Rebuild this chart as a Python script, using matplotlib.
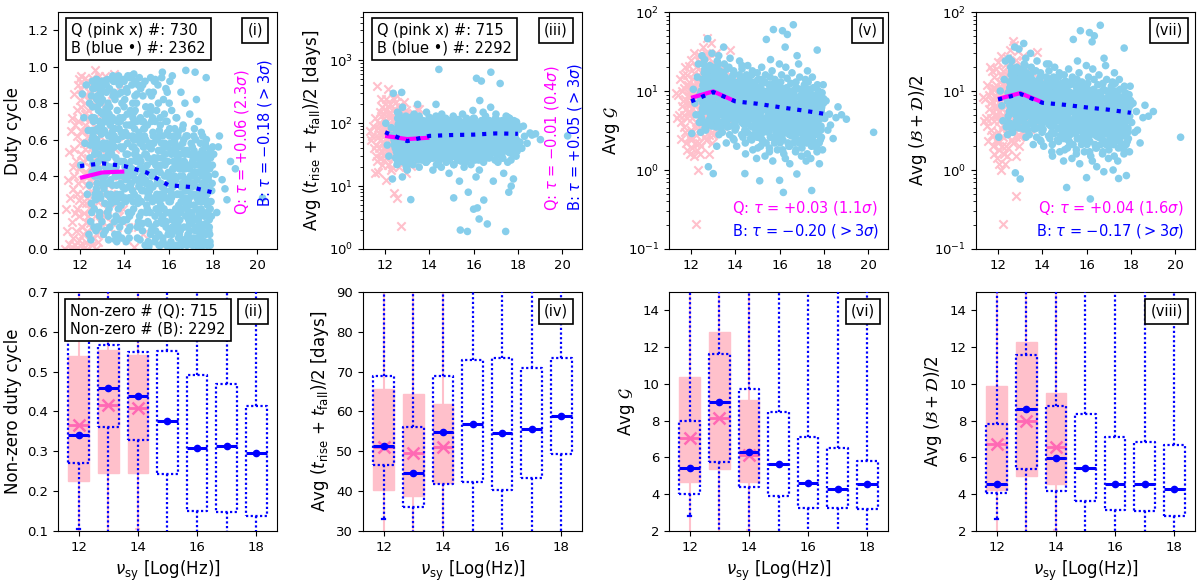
import matplotlib
matplotlib.use('Agg')
import matplotlib.pyplot as plt

# ---------------- scatter data ----------------
blue_nu = [
 12.42, 12.53, 12.48, 12.57, 12.45, 12.51, 12.59, 12.43, 12.54, 12.49, 12.56, 12.46,
 12.75, 12.64, 12.78, 12.67, 12.72, 12.61, 12.74, 12.70, 12.66, 12.77, 12.68, 12.79,
 12.82, 12.93, 12.88, 12.97, 12.85, 12.91, 12.99, 12.83, 12.94, 12.89, 12.96, 12.86,
 13.15, 13.04, 13.18, 13.07, 13.12, 13.01, 13.14, 13.10, 13.06, 13.17, 13.08, 13.19,
 13.22, 13.33, 13.28, 13.37, 13.25, 13.31, 13.39, 13.23, 13.34, 13.29, 13.36, 13.26,
 13.55, 13.44, 13.58, 13.47, 13.52, 13.41, 13.54, 13.50, 13.46, 13.57, 13.48, 13.59,
 13.62, 13.73, 13.68, 13.77, 13.65, 13.71, 13.79, 13.63, 13.74, 13.69, 13.76, 13.66,
 13.95, 13.84, 13.98, 13.87, 13.92, 13.81, 13.94, 13.90, 13.86, 13.97, 13.88, 13.99,
 14.02, 14.13, 14.08, 14.17, 14.05, 14.11, 14.19, 14.03, 14.14, 14.09, 14.16, 14.06,
 14.35, 14.24, 14.38, 14.27, 14.32, 14.21, 14.34, 14.30, 14.26, 14.37, 14.28, 14.39,
 14.42, 14.53, 14.48, 14.57, 14.45, 14.51, 14.59, 14.43, 14.54, 14.49, 14.56, 14.46,
 14.75, 14.64, 14.78, 14.67, 14.72, 14.61, 14.74, 14.70, 14.66, 14.77, 14.68, 14.79,
 14.82, 14.93, 14.88, 14.97, 14.85, 14.91, 14.99, 14.83, 14.94, 14.89, 14.96, 14.86,
 15.15, 15.04, 15.18, 15.07, 15.12, 15.01, 15.14, 15.10, 15.06, 15.17, 15.08, 15.19,
 15.22, 15.33, 15.28, 15.37, 15.25, 15.31, 15.39, 15.23, 15.34, 15.29, 15.36, 15.26,
 15.55, 15.44, 15.58, 15.47, 15.52, 15.41, 15.54, 15.50, 15.46, 15.57, 15.48, 15.59,
 15.62, 15.73, 15.68, 15.77, 15.65, 15.71, 15.79, 15.63, 15.74, 15.69, 15.76, 15.66,
 15.95, 15.84, 15.98, 15.87, 15.92, 15.81, 15.94, 15.90, 15.86, 15.97, 15.88, 15.99,
 16.02, 16.13, 16.08, 16.17, 16.05, 16.11, 16.19, 16.03, 16.14, 16.09, 16.16, 16.06,
 16.35, 16.24, 16.38, 16.27, 16.32, 16.21, 16.34, 16.30, 16.26, 16.37, 16.28, 16.39,
 16.42, 16.53, 16.48, 16.57, 16.45, 16.51, 16.59, 16.43, 16.54, 16.49, 16.56, 16.46,
 16.75, 16.64, 16.78, 16.67, 16.72, 16.61, 16.74, 16.70, 16.66, 16.77, 16.68, 16.79,
 16.82, 16.93, 16.88, 16.97, 16.85, 16.91, 16.99, 16.83, 16.94, 16.89, 16.96, 16.86,
 17.15, 17.04, 17.18, 17.07, 17.12, 17.01, 17.14, 17.10, 17.06, 17.17, 17.08, 17.19,
 17.22, 17.33, 17.28, 17.37, 17.25, 17.31, 17.39, 17.23, 17.34, 17.29, 17.36, 17.26,
 17.55, 17.44, 17.58, 17.47, 17.52, 17.41, 17.54, 17.50, 17.46, 17.57, 17.48, 17.59,
 17.62, 17.73, 17.68, 17.77, 17.65, 17.71, 17.79, 17.63, 17.74, 17.69, 17.76, 17.66,
 17.95, 17.84, 17.98, 17.87, 17.92, 17.81, 17.94, 17.90, 17.86, 17.97, 17.88, 17.99,
 12.03, 12.10, 12.17, 12.22, 12.28, 12.33, 12.37, 12.40, 12.75, 12.78,
 13.00, 13.16, 13.47, 14.30, 14.43, 15.10, 15.40, 15.72, 16.00, 16.13,
 16.17, 16.25, 16.35, 16.62, 16.78, 17.20, 17.45, 17.70, 17.80, 18.04,
 18.10, 18.18, 18.25, 18.30, 18.42, 18.55, 18.64, 18.80, 19.02, 20.25,
 12.66, 12.57, 12.69, 12.53, 12.62, 12.55, 12.68, 12.59, 12.64, 12.51, 12.63, 12.54,
 12.86, 12.77, 12.89, 12.73, 12.82, 12.75, 12.88, 12.79, 12.84, 12.71, 12.83, 12.74,
 13.06, 12.97, 13.09, 12.93, 13.02, 12.95, 13.08, 12.99, 13.04, 12.91, 13.03, 12.94,
 13.26, 13.17, 13.29, 13.13, 13.22, 13.15, 13.28, 13.19, 13.24, 13.11, 13.23, 13.14,
 13.46, 13.37, 13.49, 13.33, 13.42, 13.35, 13.48, 13.39, 13.44, 13.31, 13.43, 13.34,
 13.66, 13.57, 13.69, 13.53, 13.62, 13.55, 13.68, 13.59, 13.64, 13.51, 13.63, 13.54,
 13.86, 13.77, 13.89, 13.73, 13.82, 13.75, 13.88, 13.79, 13.84, 13.71, 13.83, 13.74,
 14.06, 13.97, 14.09, 13.93, 14.02, 13.95, 14.08, 13.99, 14.04, 13.91, 14.03, 13.94,
 14.26, 14.17, 14.29, 14.13, 14.22, 14.15, 14.28, 14.19, 14.24, 14.11, 14.23, 14.14,
 14.46, 14.37, 14.49, 14.33, 14.42, 14.35, 14.48, 14.39, 14.44, 14.31, 14.43, 14.34,
 14.66, 14.57, 14.69, 14.53, 14.62, 14.55, 14.68, 14.59, 14.64, 14.51, 14.63, 14.54,
 14.86, 14.77, 14.89, 14.73, 14.82, 14.75, 14.88, 14.79, 14.84, 14.71, 14.83, 14.74,
 15.06, 14.97, 15.09, 14.93, 15.02, 14.95, 15.08, 14.99, 15.04, 14.91, 15.03, 14.94,
 15.26, 15.17, 15.29, 15.13, 15.22, 15.15, 15.28, 15.19, 15.24, 15.11, 15.23, 15.14,
 15.46, 15.37, 15.49, 15.33, 15.42, 15.35, 15.48, 15.39, 15.44, 15.31, 15.43, 15.34,
 15.66, 15.57, 15.69, 15.53, 15.62, 15.55, 15.68, 15.59, 15.64, 15.51, 15.63, 15.54,
 15.86, 15.77, 15.89, 15.73, 15.82, 15.75, 15.88, 15.79, 15.84, 15.71, 15.83, 15.74,
 16.06, 15.97, 16.09, 15.93, 16.02, 15.95, 16.08, 15.99, 16.04, 15.91, 16.03, 15.94,
 16.26, 16.17, 16.29, 16.13, 16.22, 16.15, 16.28, 16.19, 16.24, 16.11, 16.23, 16.14,
 16.46, 16.37, 16.49, 16.33, 16.42, 16.35, 16.48, 16.39, 16.44, 16.31, 16.43, 16.34,
 16.66, 16.57, 16.69, 16.53, 16.62, 16.55, 16.68, 16.59, 16.64, 16.51, 16.63, 16.54,
 16.86, 16.77, 16.89, 16.73, 16.82, 16.75, 16.88, 16.79, 16.84, 16.71, 16.83, 16.74,
 17.06, 16.97, 17.09, 16.93, 17.02, 16.95, 17.08, 16.99, 17.04, 16.91, 17.03, 16.94,
 17.26, 17.17, 17.29, 17.13, 17.22, 17.15, 17.28, 17.19, 17.24, 17.11, 17.23, 17.14,
 17.46, 17.37, 17.49, 17.33, 17.42, 17.35, 17.48, 17.39, 17.44, 17.31, 17.43, 17.34,
 17.66, 17.57, 17.69, 17.53, 17.62, 17.55, 17.68, 17.59, 17.64, 17.51, 17.63, 17.54,
 17.86, 17.77, 17.89, 17.73, 17.82, 17.75, 17.88, 17.79, 17.84, 17.71, 17.83, 17.74]

blue_duty = [
 0.35, 0.72, 0.15, 0.88, 0.50, 0.25, 0.62, 0.80, 0.42, 0.05, 0.92, 0.57,
 0.60, 0.22, 0.84, 0.45, 0.10, 0.70, 0.33, 0.91, 0.52, 0.78, 0.28, 0.65,
 0.48, 0.85, 0.30, 0.68, 0.12, 0.56, 0.92, 0.40, 0.75, 0.20, 0.63, 0.88,
 0.72, 0.38, 0.90, 0.55, 0.25, 0.82, 0.45, 0.65, 0.08, 0.77, 0.33, 0.58,
 0.42, 0.88, 0.18, 0.62, 0.50, 0.74, 0.30, 0.93, 0.55, 0.05, 0.68, 0.36,
 0.15, 0.55, 0.82, 0.35, 0.66, 0.25, 0.92, 0.45, 0.72, 0.08, 0.60, 0.40,
 0.50, 0.22, 0.70, 0.90, 0.35, 0.60, 0.12, 0.45, 0.95, 0.28, 0.66, 0.04,
 0.62, 0.30, 0.48, 0.86, 0.15, 0.70, 0.40, 0.55, 0.24, 0.93, 0.06, 0.78,
 0.33, 0.74, 0.52, 0.10, 0.64, 0.88, 0.20, 0.45, 0.58, 0.38, 0.95, 0.26,
 0.56, 0.18, 0.80, 0.40, 0.68, 0.28, 0.90, 0.48, 0.12, 0.62, 0.35, 0.72,
 0.22, 0.60, 0.42, 0.85, 0.30, 0.52, 0.12, 0.75, 0.38, 0.92, 0.48, 0.66,
 0.45, 0.15, 0.70, 0.35, 0.58, 0.25, 0.88, 0.50, 0.64, 0.20, 0.94, 0.40,
 0.10, 0.52, 0.32, 0.78, 0.44, 0.62, 0.20, 0.90, 0.02, 0.56, 0.38, 0.70,
 0.36, 0.68, 0.08, 0.50, 0.86, 0.24, 0.58, 0.42, 0.15, 0.75, 0.30, 0.94,
 0.55, 0.28, 0.72, 0.04, 0.40, 0.62, 0.18, 0.84, 0.48, 0.34, 0.92, 0.12,
 0.20, 0.46, 0.65, 0.30, 0.90, 0.10, 0.54, 0.38, 0.76, 0.02, 0.60, 0.26,
 0.42, 0.14, 0.58, 0.82, 0.24, 0.50, 0.35, 0.68, 0.06, 0.94, 0.30, 0.46,
 0.64, 0.32, 0.08, 0.48, 0.20, 0.74, 0.40, 0.15, 0.56, 0.28, 0.88, 0.02,
 0.26, 0.52, 0.38, 0.12, 0.66, 0.04, 0.44, 0.80, 0.30, 0.58, 0.18, 0.92,
 0.46, 0.10, 0.30, 0.60, 0.22, 0.40, 0.02, 0.54, 0.35, 0.72, 0.15, 0.50,
 0.14, 0.40, 0.56, 0.26, 0.06, 0.48, 0.34, 0.64, 0.20, 0.44, 0.86, 0.30,
 0.36, 0.58, 0.18, 0.44, 0.28, 0.02, 0.52, 0.12, 0.68, 0.32, 0.48, 0.24,
 0.22, 0.46, 0.08, 0.34, 0.62, 0.16, 0.40, 0.54, 0.28, 0.04, 0.74, 0.38,
 0.42, 0.14, 0.30, 0.56, 0.06, 0.36, 0.24, 0.48, 0.18, 0.66, 0.02, 0.52,
 0.10, 0.34, 0.50, 0.20, 0.42, 0.28, 0.02, 0.60, 0.16, 0.38, 0.46, 0.82,
 0.30, 0.06, 0.44, 0.22, 0.54, 0.14, 0.36, 0.26, 0.48, 0.02, 0.64, 0.40,
 0.18, 0.38, 0.08, 0.46, 0.28, 0.52, 0.12, 0.34, 0.02, 0.42, 0.24, 0.58,
 0.32, 0.12, 0.46, 0.04, 0.26, 0.40, 0.18, 0.50, 0.08, 0.36, 0.22, 0.56,
 0.46, 0.85, 0.72, 0.58, 0.90, 0.30, 0.65, 0.08, 0.93, 0.12,
 0.89, 0.91, 0.93, 0.95, 0.96, 0.01, 0.93, 0.97, 0.00, 0.02,
 0.95, 0.62, 0.00, 0.05, 0.98, 0.97, 0.01, 0.94, 0.03, 0.52,
 0.41, 0.20, 0.56, 0.62, 0.38, 0.33, 0.27, 0.48, 0.44, 0.28,
 0.40, 0.78, 0.55, 0.20, 0.88, 0.65, 0.30, 0.47, 0.72, 0.84, 0.12, 0.60,
 0.70, 0.36, 0.90, 0.58, 0.44, 0.82, 0.18, 0.66, 0.52, 0.27, 0.76, 0.93,
 0.50, 0.86, 0.64, 0.28, 0.74, 0.40, 0.92, 0.15, 0.58, 0.80, 0.35, 0.68,
 0.80, 0.46, 0.62, 0.92, 0.30, 0.70, 0.52, 0.86, 0.20, 0.40, 0.76, 0.10,
 0.58, 0.28, 0.84, 0.45, 0.70, 0.12, 0.95, 0.38, 0.64, 0.22, 0.52, 0.78,
 0.30, 0.66, 0.48, 0.86, 0.18, 0.56, 0.76, 0.05, 0.40, 0.92, 0.26, 0.62,
 0.64, 0.40, 0.80, 0.16, 0.56, 0.92, 0.28, 0.72, 0.48, 0.08, 0.36, 0.85,
 0.46, 0.16, 0.68, 0.34, 0.82, 0.56, 0.04, 0.92, 0.28, 0.62, 0.40, 0.72,
 0.28, 0.62, 0.44, 0.86, 0.06, 0.52, 0.76, 0.34, 0.94, 0.16, 0.68, 0.42,
 0.52, 0.32, 0.76, 0.20, 0.60, 0.44, 0.84, 0.26, 0.70, 0.36, 0.56, 0.94,
 0.34, 0.70, 0.18, 0.54, 0.28, 0.80, 0.44, 0.06, 0.62, 0.38, 0.90, 0.50,
 0.56, 0.26, 0.42, 0.72, 0.14, 0.48, 0.66, 0.32, 0.84, 0.05, 0.60, 0.38,
 0.28, 0.60, 0.14, 0.44, 0.74, 0.36, 0.04, 0.52, 0.22, 0.66, 0.46, 0.92,
 0.48, 0.20, 0.64, 0.34, 0.10, 0.56, 0.26, 0.78, 0.42, 0.02, 0.70, 0.32,
 0.14, 0.42, 0.28, 0.58, 0.06, 0.50, 0.36, 0.70, 0.22, 0.86, 0.46, 0.62,
 0.36, 0.08, 0.54, 0.22, 0.72, 0.44, 0.16, 0.62, 0.30, 0.50, 0.02, 0.80,
 0.52, 0.28, 0.12, 0.62, 0.40, 0.04, 0.70, 0.22, 0.46, 0.34, 0.58, 0.18,
 0.20, 0.48, 0.32, 0.70, 0.10, 0.56, 0.26, 0.42, 0.62, 0.02, 0.36, 0.86,
 0.40, 0.16, 0.58, 0.28, 0.48, 0.08, 0.66, 0.34, 0.20, 0.54, 0.44, 0.76,
 0.24, 0.52, 0.08, 0.38, 0.62, 0.18, 0.46, 0.30, 0.02, 0.56, 0.12, 0.72,
 0.44, 0.22, 0.60, 0.10, 0.36, 0.52, 0.26, 0.04, 0.40, 0.16, 0.66, 0.30,
 0.12, 0.38, 0.26, 0.54, 0.06, 0.44, 0.20, 0.62, 0.32, 0.48, 0.02, 0.80,
 0.34, 0.10, 0.48, 0.24, 0.58, 0.14, 0.40, 0.04, 0.30, 0.52, 0.20, 0.44,
 0.22, 0.46, 0.06, 0.36, 0.16, 0.54, 0.28, 0.42, 0.02, 0.50, 0.12, 0.62,
 0.46, 0.18, 0.34, 0.04, 0.52, 0.26, 0.12, 0.42, 0.58, 0.30, 0.08, 0.70,
 0.26, 0.50, 0.14, 0.40, 0.04, 0.32, 0.56, 0.20, 0.46, 0.10, 0.36, 0.62,
 0.44, 0.20, 0.54, 0.30, 0.10, 0.48, 0.02, 0.38, 0.16, 0.60, 0.26, 0.34]

blue_trise = [
 45, 80, 28, 120, 60, 35, 95, 52, 22, 70, 150, 40,
 60, 33, 88, 48, 25, 72, 40, 110, 55, 30, 65, 180,
 38, 70, 50, 26, 95, 44, 62, 32, 130, 55, 20, 80,
 55, 30, 75, 42, 115, 36, 62, 24, 48, 90, 58, 35,
 46, 85, 32, 60, 40, 140, 52, 28, 70, 38, 100, 22,
 66, 40, 90, 30, 55, 75, 20, 48, 120, 36, 60, 85,
 50, 110, 35, 70, 26, 58, 42, 95, 62, 30, 78, 45,
 72, 38, 56, 150, 32, 88, 48, 64, 24, 105, 42, 60,
 44, 82, 60, 28, 68, 115, 36, 52, 90, 40, 18, 75,
 62, 35, 96, 50, 22, 70, 45, 130, 58, 30, 80, 40,
 38, 72, 55, 105, 30, 64, 46, 85, 20, 60, 140, 42,
 58, 28, 82, 44, 68, 34, 120, 52, 75, 24, 62, 95,
 46, 90, 35, 64, 26, 78, 55, 40, 110, 16, 70, 50,
 70, 40, 58, 30, 100, 48, 85, 22, 62, 36, 130, 54,
 52, 80, 26, 66, 44, 115, 34, 60, 92, 40, 12, 72,
 64, 36, 96, 50, 28, 74, 44, 140, 56, 20, 84, 40,
 44, 75, 58, 32, 110, 48, 66, 24, 88, 54, 8, 38,
 80, 42, 62, 28, 52, 96, 36, 70, 46, 160, 22, 58,
 56, 30, 88, 46, 68, 14, 50, 120, 38, 76, 60, 26,
 40, 70, 54, 100, 32, 62, 44, 84, 18, 58, 230, 48,
 66, 36, 80, 50, 24, 92, 58, 42, 130, 30, 72, 6,
 48, 90, 34, 62, 110, 44, 75, 28, 56, 180, 40, 68,
 72, 40, 58, 26, 86, 50, 120, 36, 64, 12, 94, 46,
 52, 82, 32, 68, 44, 140, 56, 24, 76, 40, 100, 60,
 60, 38, 90, 50, 70, 28, 110, 46, 80, 34, 16, 64,
 44, 75, 56, 130, 36, 66, 24, 88, 50, 100, 40, 8,
 68, 48, 95, 32, 58, 80, 42, 120, 62, 26, 74, 52,
 54, 88, 40, 70, 30, 62, 105, 46, 76, 36, 58, 92,
 100, 45, 30, 65, 85, 13, 300, 55, 310, 14,
 18, 6.1, 200, 200, 720, 6.5, 2.0, 1.9, 4.3, 520,
 4.5, 3.0, 470, 2.5, 650, 430, 1.9, 10, 13, 80,
 50, 40, 90, 62, 48, 70, 65, 68, 55, 63,
 55, 32, 75, 44, 100, 26, 62, 38, 85, 50, 140, 30,
 42, 68, 28, 90, 52, 36, 120, 46, 24, 64, 80, 34,
 60, 38, 82, 30, 50, 105, 44, 26, 70, 56, 35, 95,
 36, 72, 48, 28, 88, 54, 40, 125, 62, 32, 78, 45,
 70, 42, 58, 95, 34, 64, 26, 50, 82, 38, 110, 54,
 48, 84, 36, 62, 28, 100, 54, 40, 72, 32, 58, 130,
 58, 34, 76, 46, 100, 30, 66, 52, 24, 86, 42, 64,
 40, 70, 52, 32, 92, 60, 44, 125, 36, 78, 56, 26,
 66, 44, 88, 30, 56, 74, 38, 110, 50, 28, 62, 84,
 50, 92, 36, 66, 42, 120, 58, 30, 76, 46, 24, 64,
 62, 38, 80, 52, 28, 96, 44, 68, 34, 125, 56, 72,
 44, 74, 56, 32, 88, 48, 64, 26, 102, 40, 60, 36,
 68, 46, 92, 36, 58, 28, 76, 50, 115, 40, 62, 84,
 50, 84, 40, 66, 30, 96, 56, 44, 72, 22, 60, 35,
 58, 36, 78, 48, 105, 32, 64, 52, 88, 42, 25, 70,
 46, 70, 30, 88, 54, 40, 120, 62, 34, 76, 50, 28,
 72, 50, 96, 38, 60, 30, 84, 46, 66, 110, 42, 56,
 40, 64, 52, 90, 34, 74, 46, 120, 58, 28, 80, 62,
 66, 42, 82, 54, 30, 100, 48, 70, 38, 60, 26, 90,
 52, 86, 36, 64, 46, 110, 58, 32, 76, 44, 150, 40,
 60, 38, 74, 50, 96, 28, 66, 44, 84, 56, 34, 120,
 46, 78, 58, 34, 90, 52, 70, 40, 105, 30, 62, 48,
 64, 44, 86, 54, 32, 96, 60, 40, 74, 50, 115, 36,
 50, 72, 38, 90, 58, 44, 110, 66, 30, 80, 54, 42,
 70, 48, 62, 36, 100, 56, 82, 42, 64, 28, 92, 52,
 56, 84, 44, 66, 34, 104, 60, 48, 76, 38, 58, 125,
 62, 40, 78, 52, 90, 46, 68, 34, 84, 56, 110, 44]

blue_G = [
 8, 14, 4.5, 22, 10, 6, 17, 3, 12, 28, 7, 5.2,
 11, 6.5, 18, 4, 9, 25, 7.5, 13, 3.2, 15, 8.5, 5.5,
 7, 12, 5, 20, 9.5, 3.8, 15, 6, 30, 10.5, 4.5, 8,
 13, 8, 24, 5.5, 10, 16, 3.5, 9, 6.5, 19, 11, 4.2,
 9, 5, 15, 7, 28, 11, 4, 13, 6, 18, 8, 2.8,
 6.5, 12, 4.5, 17, 8.5, 3, 10, 22, 5.5, 14, 7.5, 2.2,
 10, 5.5, 14, 7, 3.5, 20, 8, 12, 4.5, 9, 26, 6,
 7.5, 13, 4, 9.5, 18, 5.5, 11, 2.5, 15, 6.5, 8.5, 3.2,
 12, 6, 9, 16, 4.5, 7.5, 24, 3.5, 10.5, 5, 13, 2,
 5.5, 10, 3.8, 8, 14, 6.5, 2.6, 19, 9, 4.8, 11, 7,
 8.5, 4.2, 12, 6, 2.2, 16, 7.2, 3.2, 10, 5.2, 21, 1.6,
 6, 11, 3.5, 8, 5, 14, 2.4, 9.5, 4.4, 18, 7, 1.8,
 9, 5, 13, 2.8, 7, 4, 17, 6, 10.5, 3.4, 1.4, 8,
 4.6, 8.5, 3, 11, 6.2, 1.9, 14, 5.4, 9.5, 2.5, 7.2, 20,
 7.5, 3.6, 10, 5.8, 2.2, 13, 4.4, 8.5, 1.5, 6.6, 16, 3,
 5.2, 9.5, 2.6, 6.8, 12, 4, 1.7, 8, 3.3, 15, 5.8, 25,
 8, 4.4, 11, 2.2, 6, 3.4, 14, 5, 9.5, 1.3, 7, 18,
 3.8, 7, 5.4, 10, 2.5, 12.5, 4.6, 1.8, 8.2, 6.2, 3, 22,
 6.5, 2.8, 9, 4.2, 13, 5.6, 1.6, 7.5, 3.5, 16, 4.8, 11,
 4.4, 8.5, 2.2, 6, 11, 3.4, 14.5, 5.2, 1.4, 7, 20, 3.8,
 7.2, 3.2, 5.6, 10, 2, 12.5, 4.4, 8.5, 2.7, 6.4, 17, 1.2,
 5, 9.5, 3.6, 7, 1.7, 4.6, 13, 2.6, 6, 11, 3.2, 28,
 3.4, 6.5, 2.2, 8.5, 4.8, 15, 1.5, 5.8, 10.5, 3.8, 7.4, 22,
 6, 2.8, 9, 4.2, 12, 1.9, 5.2, 7.6, 3.4, 14, 2.3, 10,
 4.6, 8, 3, 6.4, 1.6, 10.5, 5.4, 2.4, 7.2, 13, 3.8, 18,
 5.8, 2.6, 7.5, 4, 11, 1.4, 6.6, 3.4, 9, 4.8, 15, 2,
 3.6, 6.8, 2, 8.8, 4.6, 12, 5.6, 2.8, 7.4, 1.7, 10, 4.2,
 5, 2.4, 7, 3.6, 9.5, 4.4, 1.8, 6.2, 3.2, 12, 5.6, 8,
 2.9, 10.5, 7, 5, 15, 22, 4, 9, 46, 1.1,
 0.9, 2.0, 36, 21, 0.9, 0.73, 45, 60, 0.74, 58,
 0.52, 36, 52, 69, 0.89, 1.3, 0.55, 33, 1.2, 4.5,
 7.5, 3.2, 5.1, 3.7, 2.5, 4.6, 6.3, 5.0, 4.4, 3.0,
 9, 5.5, 13, 7, 19, 4, 10.5, 6.2, 15, 8, 3.4, 11.5,
 7.5, 12, 5, 16, 9, 3.8, 11, 6.5, 21, 8.5, 4.4, 13.5,
 11, 6.8, 15, 8.5, 4.6, 12.5, 9.5, 5.6, 18, 7.2, 10, 3.6,
 8.2, 13, 5.8, 10.5, 4, 16, 7, 11.5, 6, 9, 22, 4.8,
 6, 9.8, 4.2, 12.5, 7.5, 3.4, 14, 8.8, 5.2, 17, 6.8, 10.8,
 9.2, 5.4, 12, 7, 3.8, 15, 8.2, 10.5, 4.6, 6.4, 19, 11.5,
 6.8, 11, 4.8, 8.6, 14, 3.6, 9.6, 6, 12.5, 5.2, 7.6, 2.8,
 8, 5, 10.5, 6.6, 3.4, 13, 7.4, 4.2, 9.2, 16, 5.8, 2.4,
 6.2, 9.5, 4, 7.8, 12, 5.2, 2.8, 8.8, 14.5, 4.6, 6.8, 10.5,
 7.2, 4.4, 9.8, 5.8, 3, 12.5, 6.5, 8.2, 3.8, 10.8, 5, 15,
 5.4, 8.6, 3.6, 6.8, 11, 4.4, 2.5, 7.6, 9.6, 5, 13.5, 3,
 7.8, 4.6, 10, 5.8, 2.8, 8.6, 6.4, 3.6, 12, 5.2, 7, 16,
 5.6, 9.2, 3.4, 7, 4.4, 11.5, 6.2, 2.6, 8.2, 5, 14, 3.8,
 6.6, 4, 8.8, 5.2, 2.4, 10.5, 6, 3.2, 7.6, 4.6, 12.5, 2,
 4.8, 7.8, 3, 6, 9.8, 4.2, 5.4, 2.2, 8.6, 3.6, 6.8, 13,
 6.4, 3.8, 8.4, 5, 2.6, 10.5, 5.8, 4.4, 7.2, 3.2, 12, 1.9,
 4.6, 7.4, 3.4, 5.8, 9.5, 2.6, 6.6, 4, 8.2, 5.2, 3, 11.5,
 5.8, 3.6, 7.8, 4.6, 2.2, 9.5, 5.2, 6.8, 3, 4.2, 11, 2.6,
 4.4, 6.8, 3.2, 5.4, 8.6, 2.4, 6, 3.8, 10.5, 4.8, 7.4, 1.8,
 5.6, 3.4, 7.2, 4.2, 2, 8.8, 5, 6.4, 2.8, 3.8, 10, 4.6,
 4, 6.2, 2.8, 5.2, 8, 3.4, 4.6, 7, 2.2, 9.5, 5.6, 3.6,
 5.2, 3.2, 6.8, 4.4, 2.4, 8.4, 4.8, 6, 3, 10.5, 3.8, 1.8,
 3.8, 6, 2.6, 5, 7.6, 3.4, 4.4, 9, 2.2, 5.6, 6.6, 4,
 4.8, 3, 6.4, 4, 2.2, 7.8, 5.4, 3.6, 9.5, 4.4, 2.6, 6.8,
 3.6, 5.6, 2.4, 4.6, 7, 3.2, 6.2, 4.2, 2, 8.6, 5, 3,
 4.4, 2.8, 6, 3.6, 7.4, 4.8, 2.2, 5.4, 3.2, 8.8, 4, 6.6,
 3.4, 5.2, 2.6, 4.2, 6.6, 3, 5.8, 2.2, 7.8, 3.8, 4.6, 9.5]

blue_BD = [
 7.5, 13, 4, 20, 9.5, 5.5, 16, 2.8, 11, 26, 6.5, 4.8,
 10, 6, 17, 3.8, 8.5, 24, 7, 12, 3, 14, 8, 5,
 6.5, 11, 4.6, 19, 9, 3.5, 14, 5.6, 34, 10, 4.2, 7.5,
 12, 7.5, 22, 5, 9.5, 15, 3.3, 8.5, 6, 18, 10.5, 4,
 8.5, 4.8, 14, 6.6, 26, 10.5, 3.8, 12, 5.6, 17, 7.5, 2.6,
 6, 11, 4.2, 16, 8, 2.8, 9.5, 20, 5.2, 13, 7, 2.1,
 9.5, 5.2, 13, 6.6, 3.3, 18, 7.6, 11.5, 4.2, 8.5, 24, 5.6,
 7, 12, 3.8, 9, 17, 5.2, 10.5, 2.4, 14, 6.2, 8, 3,
 11, 5.6, 8.5, 15, 4.2, 7, 22, 3.3, 10, 4.8, 12.5, 2,
 5.2, 9.5, 3.6, 7.5, 13, 6.2, 2.5, 18, 8.5, 4.5, 10.5, 6.6,
 8, 4, 11.5, 5.6, 2.1, 15, 6.8, 3, 9.5, 5, 20, 1.5,
 5.6, 10.5, 3.3, 7.6, 4.8, 13, 2.3, 9, 4.2, 17, 6.6, 1.7,
 8.5, 4.8, 12.5, 2.7, 6.6, 3.8, 16, 5.6, 10, 3.2, 1.3, 7.6,
 4.4, 8, 2.8, 10.5, 5.8, 1.8, 13, 5.1, 9, 2.4, 6.8, 19,
 7, 3.4, 9.5, 5.5, 2.1, 12.5, 4.2, 8, 1.4, 6.2, 15, 2.8,
 5, 9, 2.5, 6.4, 11.5, 3.8, 1.6, 7.6, 3.1, 14, 5.5, 24,
 7.6, 4.2, 10.5, 2.1, 5.7, 3.2, 13, 4.8, 9, 1.2, 6.6, 17,
 3.6, 6.6, 5.1, 9.5, 2.4, 12, 4.4, 1.7, 7.8, 5.9, 2.8, 21,
 6.2, 2.7, 8.5, 4, 12.5, 5.3, 1.5, 7.1, 3.3, 15, 4.6, 10.5,
 4.2, 8, 2.1, 5.7, 10.5, 3.2, 14, 4.9, 1.3, 6.6, 19, 3.6,
 6.8, 3, 5.3, 9.5, 1.9, 12, 4.2, 8, 2.6, 6.1, 16, 1.1,
 4.8, 9, 3.4, 6.6, 1.6, 4.4, 12.5, 2.5, 5.7, 10.5, 3, 26,
 3.2, 6.2, 2.1, 8, 4.6, 14, 1.4, 5.5, 10, 3.6, 7, 21,
 5.7, 2.7, 8.5, 4, 11.5, 1.8, 4.9, 7.2, 3.2, 13, 2.2, 9.5,
 4.4, 7.6, 2.8, 6.1, 1.5, 10, 5.1, 2.3, 6.8, 12.5, 3.6, 17,
 5.5, 2.5, 7.1, 3.8, 10.5, 1.3, 6.3, 3.2, 8.5, 4.6, 14, 1.9,
 3.4, 6.5, 1.9, 8.4, 4.4, 11.5, 5.3, 2.7, 7, 1.6, 9.5, 4,
 4.8, 2.3, 6.6, 3.4, 9, 4.2, 1.7, 5.9, 3, 11.5, 5.3, 7.6,
 2.6, 10, 6.5, 4.2, 14, 24, 3.5, 8, 36, 0.92,
 0.77, 40, 30, 22, 1.7, 0.6, 45, 58, 0.8, 55,
 0.43, 42, 50, 68, 0.95, 1.0, 0.78, 35, 0.85, 4.0,
 7, 3.0, 5.5, 3.2, 2.2, 4.6, 6.6, 4.8, 5.5, 2.6,
 8.5, 5.2, 12.5, 6.6, 18, 3.8, 10, 5.8, 14, 7.6, 3.2, 11,
 7, 11.5, 4.8, 15, 8.6, 3.6, 10.5, 6.2, 20, 8, 4.2, 13,
 10.5, 6.4, 14, 8, 4.4, 12, 9, 5.3, 17, 6.8, 9.5, 3.4,
 7.8, 12.5, 5.5, 10, 3.8, 15, 6.6, 11, 5.7, 8.5, 21, 4.5,
 5.7, 9.3, 4, 12, 7.1, 3.2, 13, 8.4, 4.9, 16, 6.4, 10.2,
 8.7, 5.1, 11.4, 6.6, 3.6, 14, 7.8, 10, 4.4, 6.1, 18, 10.8,
 6.4, 10.5, 4.6, 8.2, 13, 3.4, 9.1, 5.7, 12, 4.9, 7.2, 2.6,
 7.6, 4.8, 10, 6.3, 3.2, 12.4, 7, 4, 8.7, 15, 5.5, 2.3,
 5.9, 9, 3.8, 7.4, 11.4, 4.9, 2.7, 8.4, 13.8, 4.4, 6.5, 10,
 6.8, 4.2, 9.3, 5.5, 2.9, 11.9, 6.2, 7.8, 3.6, 10.3, 4.8, 14.2,
 5.1, 8.2, 3.4, 6.5, 10.5, 4.2, 2.4, 7.2, 9.1, 4.8, 12.8, 2.9,
 7.4, 4.4, 9.5, 5.5, 2.7, 8.2, 6.1, 3.4, 11.4, 4.9, 6.7, 15,
 5.3, 8.7, 3.2, 6.7, 4.2, 10.9, 5.9, 2.5, 7.8, 4.8, 13.3, 3.6,
 6.3, 3.8, 8.4, 4.9, 2.3, 10, 5.7, 3, 7.2, 4.4, 11.9, 1.9,
 4.6, 7.4, 2.9, 5.7, 9.3, 4, 5.1, 2.1, 8.2, 3.4, 6.5, 12.4,
 6.1, 3.6, 8, 4.8, 2.5, 10, 5.5, 4.2, 6.8, 3, 11.4, 1.8,
 4.4, 7, 3.2, 5.5, 9, 2.5, 6.3, 3.8, 7.8, 4.9, 2.9, 10.9,
 5.5, 3.4, 7.4, 4.4, 2.1, 9, 4.9, 6.5, 2.9, 4, 10.5, 2.5,
 4.2, 6.5, 3, 5.1, 8.2, 2.3, 5.7, 3.6, 10, 4.6, 7, 1.7,
 5.3, 3.2, 6.8, 4, 1.9, 8.4, 4.8, 6.1, 2.7, 3.6, 9.5, 4.4,
 3.8, 5.9, 2.7, 4.9, 7.6, 3.2, 4.4, 6.7, 2.1, 9, 5.3, 3.4,
 4.9, 3, 6.5, 4.2, 2.3, 8, 4.6, 5.7, 2.9, 10, 3.6, 1.7,
 3.6, 5.7, 2.5, 4.8, 7.2, 3.2, 4.2, 8.6, 2.1, 5.3, 6.3, 3.8,
 4.6, 2.9, 6.1, 3.8, 2.1, 7.4, 5.1, 3.4, 9, 4.2, 2.5, 6.5,
 3.4, 5.3, 2.3, 4.4, 6.7, 3, 5.9, 4, 1.9, 8.2, 4.8, 2.9,
 4.2, 2.7, 5.7, 3.4, 7, 4.6, 2.1, 5.1, 3, 8.4, 3.8, 6.3,
 3.2, 4.9, 2.5, 4, 6.3, 2.9, 5.5, 2.1, 7.4, 3.6, 4.4, 9]

pink_nu = [
 11.32, 11.38,
 11.42, 11.47, 11.50,
 11.52, 11.58, 11.55, 11.60,
 11.62, 11.68, 11.64, 11.70, 11.66,
 11.72, 11.78, 11.74, 11.79, 11.71, 11.76,
 11.82, 11.88, 11.84, 11.89, 11.81, 11.86, 11.83, 11.87,
 11.92, 11.98, 11.94, 11.99, 11.91, 11.96, 11.93, 11.97, 11.95,
 12.02, 12.08, 12.04, 12.09, 12.01, 12.06, 12.03, 12.07, 12.05, 12.00,
 12.12, 12.18, 12.14, 12.19, 12.11, 12.16, 12.13, 12.17, 12.15, 12.10,
 12.22, 12.28, 12.24, 12.29, 12.21, 12.26, 12.23, 12.27, 12.25, 12.20,
 12.32, 12.38, 12.34, 12.39, 12.31, 12.36, 12.33, 12.37, 12.35, 12.30,
 12.42, 12.48, 12.44, 12.49, 12.41, 12.46, 12.43, 12.47, 12.45, 12.40,
 12.52, 12.58, 12.54, 12.59, 12.51, 12.56, 12.53, 12.57, 12.55,
 12.62, 12.68, 12.64, 12.69, 12.61, 12.66, 12.63, 12.67, 12.65,
 12.72, 12.78, 12.74, 12.79, 12.71, 12.76, 12.73, 12.77,
 12.82, 12.88, 12.84, 12.89, 12.81, 12.86, 12.83, 12.87,
 12.92, 12.98, 12.94, 12.99, 12.91, 12.96, 12.93,
 13.02, 13.08, 13.04, 13.09, 13.01, 13.06,
 13.15, 13.24, 13.18, 13.26, 13.13, 13.21,
 13.35, 13.44, 13.38, 13.46, 13.41,
 13.55, 13.64, 13.58, 13.66,
 13.75, 13.84, 13.78, 13.86,
 13.95, 14.04, 14.10,
 14.18, 14.30,
 14.45, 14.60,
 14.85]

pink_duty = [
 0.0, 0.22,
 0.1, 0.38, 0.03,
 0.53, 0.0, 0.28, 0.65,
 0.15, 0.45, 0.72, 0.06, 0.33,
 0.85, 0.2, 0.55, 0.02, 0.4, 0.68,
 0.1, 0.62, 0.3, 0.9, 0.48, 0.76, 0.0, 0.22,
 0.36, 0.82, 0.05, 0.58, 0.7, 0.18, 0.93, 0.44, 0.27,
 0.65, 0.12, 0.88, 0.38, 0.02, 0.52, 0.78, 0.25, 0.95, 0.45,
 0.3, 0.72, 0.08, 0.58, 0.9, 0.2, 0.48, 0.84, 0.0, 0.64,
 0.55, 0.15, 0.8, 0.35, 0.68, 0.04, 0.94, 0.42, 0.25, 0.74,
 0.1, 0.62, 0.4, 0.86, 0.28, 0.5, 0.0, 0.76, 0.18, 0.92,
 0.7, 0.32, 0.05, 0.58, 0.9, 0.22, 0.45, 0.14, 0.82, 0.38,
 0.25, 0.84, 0.48, 0.12, 0.66, 0.02, 0.94, 0.36, 0.56,
 0.6, 0.18, 0.78, 0.42, 0.06, 0.88, 0.3, 0.98, 0.52,
 0.08, 0.46, 0.7, 0.26, 0.92, 0.36, 0.0, 0.6,
 0.4, 0.15, 0.82, 0.55, 0.04, 0.68, 0.28, 0.95,
 0.62, 0.2, 0.88, 0.35, 0.1, 0.5, 0.75,
 0.3, 0.7, 0.08, 0.92, 0.45, 0.18,
 0.58, 0.12, 0.8, 0.35, 0.95, 0.22,
 0.44, 0.85, 0.15, 0.65, 0.3,
 0.96, 0.25, 0.55, 0.08,
 0.4, 0.9, 0.18, 0.7,
 0.22, 0.62, 0.05,
 0.12, 0.35,
 0.01, 0.12,
 0.08]

pink_trise = [
 75, 55,
 62, 90, 40,
 16, 45, 120, 30,
 390, 60, 25, 85, 17,
 40, 150, 70, 28, 100, 55,
 240, 35, 80, 50, 130, 22, 65, 180,
 48, 110, 30, 200, 70, 40, 90, 26, 140,
 12.6, 60, 160, 38, 85, 240, 45, 110, 28, 70,
 350, 52, 95, 34, 140, 66, 22, 80, 190, 44,
 75, 30, 120, 55, 200, 40, 90, 18, 62, 150,
 45, 170, 28, 85, 60, 110, 36, 250, 70, 20,
 7.8, 95, 50, 140, 32, 75, 210, 42, 65, 120,
 6.5, 60, 270, 38, 100, 25, 80, 150, 48,
 185, 44, 85, 30, 130, 58, 20, 95, 70,
 2.3, 120, 52, 36, 75, 180, 28, 90,
 60, 140, 40, 24, 100, 66, 34, 220,
 80, 30, 55, 120, 44, 16, 160,
 48, 95, 36, 70, 130, 26,
 21, 145, 60, 40, 85, 32,
 23, 170, 55, 100, 38,
 170, 45, 80, 30,
 60, 110, 35, 90,
 50, 120, 28,
 40, 75,
 35, 60,
 45]

pink_G = [
 9.5, 4.5,
 9, 5, 14,
 4, 10, 2.5, 6.5,
 16, 3.5, 7.5, 11, 5,
 20, 6, 3, 12, 8, 2.2,
 4.5, 12, 7, 2.6, 16, 9, 1.8, 5.5,
 21, 3.2, 8.5, 2.4, 13, 5.5, 10, 1.6, 7,
 6, 14, 3, 9.5, 25, 4.5, 1.9, 11, 7.5, 2.6,
 30, 5, 8, 2.2, 12, 3.6, 17, 6.5, 1.5, 10,
 0.21, 9, 4, 14, 2.8, 7, 20, 5.2, 1.8, 11,
 1.0, 6, 16, 3.4, 10, 2.2, 8, 24, 4.6, 13,
 1.6, 11, 5, 18, 3, 8.5, 2, 13, 6.5, 28,
 36, 4.4, 9, 2.6, 14, 6, 20, 3.4, 11,
 7.5, 2.4, 16, 4.8, 10, 30, 3.2, 12.5, 6,
 47, 5.5, 9.5, 2.8, 14, 4, 22, 7.5,
 8.5, 3.6, 18, 5.8, 1.6, 11, 26, 4.4,
 6.5, 15, 3, 10, 40, 5, 2.2,
 12, 4.2, 22, 7, 2.8, 9,
 5.5, 16, 3.2, 9.5, 30, 7,
 8, 3.6, 14, 5.2, 20,
 10, 4.5, 18, 6.5,
 33, 7, 12, 3.8,
 9, 5, 15,
 6, 11,
 4, 8,
 7]

pink_BD = [
 8.5, 4.2,
 8, 4.6, 12,
 3.6, 9, 2.3, 6,
 20, 3.2, 7, 10, 4.6,
 18, 5.5, 2.8, 11, 7.5, 2,
 4.2, 11, 6.5, 2.4, 15, 8.5, 1.6, 5,
 19, 3, 8, 2.2, 12, 5, 9.5, 1.4, 6.5,
 5.5, 13, 1.2, 9, 23, 4.2, 1.8, 10, 7, 2.4,
 28, 4.6, 7.5, 2, 11, 3.3, 16, 6, 1.0, 9.5,
 0.21, 8.5, 3.7, 13, 2.6, 6.5, 18, 4.8, 1.6, 10,
 1.2, 5.5, 15, 3.1, 9.5, 2, 7.5, 22, 4.2, 12,
 1.5, 10, 4.6, 17, 2.8, 8, 1.9, 12, 6, 26,
 33, 4, 8.5, 2.4, 13, 5.5, 19, 3.1, 10,
 7, 2.2, 15, 4.4, 9.5, 43, 3, 12, 5.6,
 38, 5, 9, 2.6, 13, 3.7, 21, 7,
 0.47, 3.3, 17, 5.4, 1.5, 10.5, 25, 4.1,
 6, 14, 2.8, 9.5, 32, 4.6, 2,
 11, 3.9, 20, 6.5, 2.6, 8.5,
 5.1, 15, 3, 9, 28, 6.5,
 7.5, 3.3, 13, 4.8, 19,
 9.5, 4.2, 17, 6,
 31, 6.5, 11, 3.5,
 8.5, 4.6, 14,
 5.6, 10,
 3.8, 7.5,
 6.5]

# ---------------- binned trend lines (top row) ----------------
bins_q = [12, 13, 14]
bins_b = [12, 13, 14, 15, 16, 17, 18]
duty_trend_q = [0.39, 0.42, 0.425]
duty_trend_b = [0.455, 0.47, 0.455, 0.42, 0.35, 0.34, 0.31]
trise_trend_q = [63, 56, 59]
trise_trend_b = [72, 52, 63, 65, 66, 69, 68]
G_trend_q = [8.2, 9.9, 7.4]
G_trend_b = [7.4, 9.7, 7.4, 6.9, 6.25, 5.7, 5.15]
BD_trend_q = [7.95, 9.4, 7.2]
BD_trend_b = [7.8, 9.2, 7.1, 6.7, 6.2, 5.8, 5.3]

# ---------------- box statistics (bottom row) ----------------
nzduty_q_q1 = [0.226, 0.246, 0.246]
nzduty_q_med = [0.366, 0.417, 0.408]
nzduty_q_q3 = [0.539, 0.555, 0.541]
nzduty_q_lo = [0.0, 0.0, 0.105]
nzduty_q_hi = [1.0, 1.0, 1.0]
nzduty_b_q1 = [0.271, 0.36, 0.329, 0.243, 0.15, 0.148, 0.138]
nzduty_b_med = [0.34, 0.46, 0.44, 0.376, 0.309, 0.313, 0.295]
nzduty_b_q3 = [0.62, 0.568, 0.55, 0.553, 0.492, 0.469, 0.414]
nzduty_b_lo = [0.106, 0.0, 0.0, 0.0, 0.0, 0.0, 0.0]
nzduty_b_hi = [1.0, 1.0, 1.0, 1.0, 1.0, 1.0, 1.0]

trise_q_q1 = [40.25, 38.8, 42.1]
trise_q_med = [51.2, 49.5, 51.2]
trise_q_q3 = [65.7, 64.3, 61.8]
trise_q_lo = [10.0, 10.0, 10.0]
trise_q_hi = [200.0, 200.0, 200.0]
trise_b_q1 = [46.6, 36.1, 41.7, 42.4, 40.4, 43.2, 49.3]
trise_b_med = [51.3, 44.5, 54.8, 56.9, 54.5, 55.5, 58.9]
trise_b_q3 = [69.0, 56.0, 69.0, 73.0, 73.4, 70.8, 73.4]
trise_b_lo = [32.9, 10.0, 10.0, 10.0, 10.0, 10.0, 10.0]
trise_b_hi = [200.0, 200.0, 200.0, 200.0, 200.0, 200.0, 200.0]

G_q_q1 = [4.67, 5.35, 4.64]
G_q_med = [7.04, 8.16, 6.16]
G_q_q3 = [10.36, 12.85, 9.13]
G_q_lo = [0.5, 0.5, 2.07]
G_q_hi = [40.0, 40.0, 40.0]
G_b_q1 = [4.0, 5.73, 4.4, 3.89, 3.25, 3.25, 3.22]
G_b_med = [5.44, 9.04, 6.27, 5.62, 4.62, 4.31, 4.55]
G_b_q3 = [8.0, 11.64, 9.71, 8.45, 7.13, 6.53, 5.8]
G_b_lo = [2.82, 0.5, 0.5, 0.5, 0.5, 0.5, 0.5]
G_b_hi = [40.0, 40.0, 40.0, 40.0, 40.0, 40.0, 40.0]

BD_q_q1 = [4.25, 5.0, 4.53]
BD_q_med = [6.73, 7.98, 6.58]
BD_q_q3 = [9.9, 12.27, 9.53]
BD_q_lo = [0.5, 0.5, 2.05]
BD_q_hi = [40.0, 40.0, 40.0]
BD_b_q1 = [4.04, 5.36, 4.16, 3.64, 3.16, 3.07, 2.82]
BD_b_med = [4.58, 8.64, 5.95, 5.44, 4.58, 4.53, 4.27]
BD_b_q3 = [7.82, 11.55, 8.82, 8.36, 7.13, 6.85, 6.67]
BD_b_lo = [2.64, 0.5, 0.5, 0.5, 0.5, 0.5, 0.5]
BD_b_hi = [40.0, 40.0, 40.0, 40.0, 40.0, 40.0, 40.0]

pos_q = [12, 13, 14]
pos_b = [12, 13, 14, 15, 16, 17, 18]

# ---------------- figure ----------------
plt.rcParams['font.family'] = 'DejaVu Sans'
fig = plt.figure(figsize=(12, 5.85), dpi=100)
lefts = [0.0483, 0.3025, 0.5575, 0.8133]
W = 0.1825
top_row = [fig.add_axes([l, 0.5744, W, 0.405]) for l in lefts]
bot_row = [fig.add_axes([l, 0.0923, W, 0.4086]) for l in lefts]

BOX = dict(boxstyle='square,pad=0.35', fc='white', ec='black', lw=1.2)
TICK_FS = 9.5
LAB_FS = 12
TXT_FS = 10.5


def scatter_panel(ax, yq, yb, tq, tb):
    n = min(len(pink_nu), len(yq))
    ax.scatter(pink_nu[:n], yq[:n], marker='x', s=36, c='pink', linewidths=1.5, zorder=1)
    n = min(len(blue_nu), len(yb))
    ax.scatter(blue_nu[:n], yb[:n], marker='o', s=30, c='skyblue', edgecolors='none', zorder=2)
    ax.plot(bins_q, tq, color='magenta', lw=3, zorder=3, solid_capstyle='butt')
    ax.plot(bins_b, tb, color='blue', lw=3, ls=':', zorder=4)
    ax.set_xlim(11.0, 20.9)
    ax.set_xticks([12, 14, 16, 18, 20])
    ax.tick_params(labelsize=TICK_FS)


def box_panel(ax, q, b, ylim):
    sq = [dict(q1=q[0][i], med=q[1][i], q3=q[2][i], whislo=q[3][i], whishi=q[4][i], fliers=[])
          for i in range(len(pos_q))]
    sb = [dict(q1=b[0][i], med=b[1][i], q3=b[2][i], whislo=b[3][i], whishi=b[4][i], fliers=[])
          for i in range(len(pos_b))]
    ax.bxp(sq, positions=pos_q, widths=0.7, patch_artist=True, showfliers=False,
           boxprops=dict(facecolor='pink', edgecolor='pink', linewidth=1),
           whiskerprops=dict(color='pink', linewidth=1.5),
           capprops=dict(color='pink', linewidth=1.5),
           medianprops=dict(color='hotpink', linewidth=2),
           capwidths=0.1, manage_ticks=False, zorder=1)
    ax.plot(pos_q, q[1], ls='none', marker='x', color='hotpink', ms=8, mew=1.8, zorder=2.5)
    dot = (0, (1, 1.1))
    ax.bxp(sb, positions=pos_b, widths=0.7, patch_artist=False, showfliers=False,
           boxprops=dict(color='blue', linestyle=dot, linewidth=1.6),
           whiskerprops=dict(color='blue', linestyle=dot, linewidth=1.6),
           capprops=dict(color='blue', linewidth=1.6),
           medianprops=dict(color='blue', linewidth=2.2),
           capwidths=0.1, manage_ticks=False, zorder=3)
    ax.plot(pos_b, b[1], ls='none', marker='o', color='blue', ms=4.5, zorder=3.5)
    ax.set_xlim(11.3, 18.7)
    ax.set_ylim(*ylim)
    ax.set_xticks([12, 14, 16, 18])
    ax.set_xlabel(r'$\nu_{\rm sy}$ [Log(Hz)]', fontsize=LAB_FS)
    ax.tick_params(labelsize=TICK_FS)


# (i)
ax = top_row[0]
scatter_panel(ax, pink_duty, blue_duty, duty_trend_q, duty_trend_b)
ax.set_ylim(0, 1.3)
ax.set_yticks([0.0, 0.2, 0.4, 0.6, 0.8, 1.0, 1.2])
ax.set_ylabel('Duty cycle', fontsize=LAB_FS)
ax.text(0.059, 0.954, 'Q (pink x) #: 730\nB (blue \u2022) #: 2362', transform=ax.transAxes,
        ha='left', va='top', fontsize=TXT_FS, bbox=BOX, zorder=10)
ax.text(0.936, 0.954, '(i)', transform=ax.transAxes, ha='right', va='top', fontsize=TXT_FS, bbox=BOX, zorder=10)
ax.text(0.84, 0.452, r'Q: $\tau$ = +0.06 (2.3$\sigma$)', transform=ax.transAxes, rotation=90,
        ha='center', va='center', color='magenta', fontsize=TXT_FS, zorder=10)
ax.text(0.945, 0.49, r'B: $\tau$ = $-$0.18 ($>3\sigma$)', transform=ax.transAxes, rotation=90,
        ha='center', va='center', color='blue', fontsize=TXT_FS, zorder=10)

# (iii)
ax = top_row[1]
scatter_panel(ax, pink_trise, blue_trise, trise_trend_q, trise_trend_b)
ax.set_yscale('log')
ax.set_ylim(1, 10 ** 3.77)
ax.set_ylabel(r'Avg ($t_{\rm rise}$ + $t_{\rm fall}$)/2 [days]', fontsize=LAB_FS)
ax.text(0.064, 0.954, 'Q (pink x) #: 715\nB (blue \u2022) #: 2292', transform=ax.transAxes,
        ha='left', va='top', fontsize=TXT_FS, bbox=BOX, zorder=10)
ax.text(0.936, 0.954, '(iii)', transform=ax.transAxes, ha='right', va='top', fontsize=TXT_FS, bbox=BOX, zorder=10)
ax.text(0.864, 0.468, r'Q: $\tau$ = $-$0.01 (0.4$\sigma$)', transform=ax.transAxes, rotation=90,
        ha='center', va='center', color='magenta', fontsize=TXT_FS, zorder=10)
ax.text(0.968, 0.473, r'B: $\tau$ = +0.05 ($>3\sigma$)', transform=ax.transAxes, rotation=90,
        ha='center', va='center', color='blue', fontsize=TXT_FS, zorder=10)

# (v)
ax = top_row[2]
scatter_panel(ax, pink_G, blue_G, G_trend_q, G_trend_b)
ax.set_yscale('log')
ax.set_ylim(0.1, 100)
ax.set_ylabel(r'Avg $\mathcal{G}$', fontsize=LAB_FS)
ax.text(0.952, 0.954, '(v)', transform=ax.transAxes, ha='right', va='top', fontsize=TXT_FS, bbox=BOX, zorder=10)
ax.text(0.622, 0.172, r'Q: $\tau$ = +0.03 (1.1$\sigma$)', transform=ax.transAxes,
        ha='center', va='center', color='magenta', fontsize=TXT_FS, zorder=10)
ax.text(0.622, 0.076, r'B: $\tau$ = $-$0.20 ($>3\sigma$)', transform=ax.transAxes,
        ha='center', va='center', color='blue', fontsize=TXT_FS, zorder=10)

# (vii)
ax = top_row[3]
scatter_panel(ax, pink_BD, blue_BD, BD_trend_q, BD_trend_b)
ax.set_yscale('log')
ax.set_ylim(0.1, 100)
ax.set_ylabel(r'Avg $(\mathcal{B} + \mathcal{D})/2$', fontsize=LAB_FS)
ax.text(0.945, 0.954, '(vii)', transform=ax.transAxes, ha='right', va='top', fontsize=TXT_FS, bbox=BOX, zorder=10)
ax.text(0.614, 0.172, r'Q: $\tau$ = +0.04 (1.6$\sigma$)', transform=ax.transAxes,
        ha='center', va='center', color='magenta', fontsize=TXT_FS, zorder=10)
ax.text(0.614, 0.076, r'B: $\tau$ = $-$0.17 ($>3\sigma$)', transform=ax.transAxes,
        ha='center', va='center', color='blue', fontsize=TXT_FS, zorder=10)

# (ii)
ax = bot_row[0]
box_panel(ax, [nzduty_q_q1, nzduty_q_med, nzduty_q_q3, nzduty_q_lo, nzduty_q_hi],
          [nzduty_b_q1, nzduty_b_med, nzduty_b_q3, nzduty_b_lo, nzduty_b_hi], (0.1, 0.7))
ax.set_ylabel('Non-zero duty cycle', fontsize=LAB_FS)
ax.text(0.055, 0.95, 'Non-zero # (Q): 715\nNon-zero # (B): 2292', transform=ax.transAxes,
        ha='left', va='top', fontsize=TXT_FS, bbox=BOX, zorder=10)
ax.text(0.936, 0.95, '(ii)', transform=ax.transAxes, ha='right', va='top', fontsize=TXT_FS, bbox=BOX, zorder=10)

# (iv)
ax = bot_row[1]
box_panel(ax, [trise_q_q1, trise_q_med, trise_q_q3, trise_q_lo, trise_q_hi],
          [trise_b_q1, trise_b_med, trise_b_q3, trise_b_lo, trise_b_hi], (30, 90))
ax.set_ylabel(r'Avg ($t_{\rm rise}$ + $t_{\rm fall}$)/2 [days]', fontsize=LAB_FS)
ax.text(0.936, 0.95, '(iv)', transform=ax.transAxes, ha='right', va='top', fontsize=TXT_FS, bbox=BOX, zorder=10)

# (vi)
ax = bot_row[2]
box_panel(ax, [G_q_q1, G_q_med, G_q_q3, G_q_lo, G_q_hi],
          [G_b_q1, G_b_med, G_b_q3, G_b_lo, G_b_hi], (2, 15))
ax.set_yticks([2, 4, 6, 8, 10, 12, 14])
ax.set_ylabel(r'Avg $\mathcal{G}$', fontsize=LAB_FS)
ax.text(0.94, 0.95, '(vi)', transform=ax.transAxes, ha='right', va='top', fontsize=TXT_FS, bbox=BOX, zorder=10)

# (viii)
ax = bot_row[3]
box_panel(ax, [BD_q_q1, BD_q_med, BD_q_q3, BD_q_lo, BD_q_hi],
          [BD_b_q1, BD_b_med, BD_b_q3, BD_b_lo, BD_b_hi], (2, 15))
ax.set_yticks([2, 4, 6, 8, 10, 12, 14])
ax.set_ylabel(r'Avg $(\mathcal{B} + \mathcal{D})/2$', fontsize=LAB_FS)
ax.text(0.945, 0.95, '(viii)', transform=ax.transAxes, ha='right', va='top', fontsize=TXT_FS, bbox=BOX, zorder=10)

fig.savefig('out.png', dpi=100)
